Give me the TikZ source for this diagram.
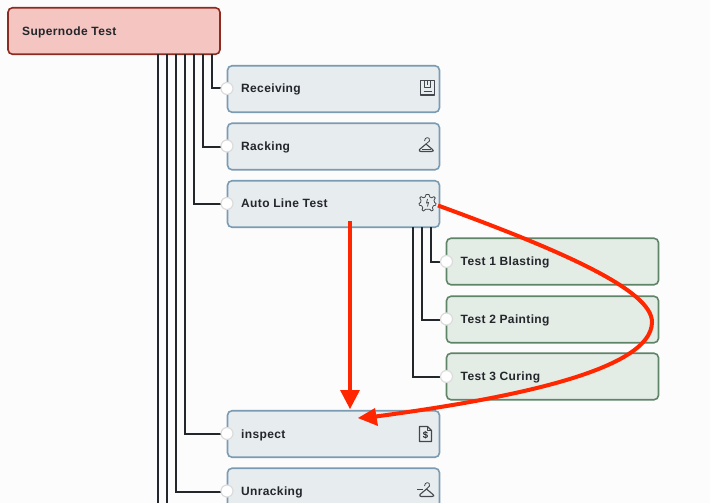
\documentclass[tikz,border=0pt]{standalone}
\usepackage{fontspec}
\setmainfont[LetterSpace=3]{Liberation Sans}
\usetikzlibrary{arrows.meta}
\definecolor{pagebg}{HTML}{FCFCFC}
\definecolor{redfill}{HTML}{F4C5C1}
\definecolor{redline}{HTML}{8E2B20}
\definecolor{bluefill}{HTML}{E7ECEF}
\definecolor{blueline}{HTML}{7B9BB2}
\definecolor{greenfill}{HTML}{E4ECE6}
\definecolor{greenline}{HTML}{5F8569}
\definecolor{ink}{HTML}{23262B}
\definecolor{portline}{HTML}{DCDCDC}
\definecolor{arrowred}{HTML}{FF2600}
\tikzset{
  x=1pt,y=-1pt,
  box/.style={draw,rounded corners=4.5pt,line width=1.6pt,minimum width=212pt,minimum height=46.5pt,inner sep=0pt,outer sep=0pt},
  bluebox/.style={box,fill=bluefill,draw=blueline},
  greenbox/.style={box,fill=greenfill,draw=greenline},
  redbox/.style={box,fill=redfill,draw=redline},
  port/.style={circle,fill=white,draw=portline,line width=1.2pt,minimum size=12pt,inner sep=0pt,outer sep=0pt},
  label/.style={anchor=west,inner sep=0pt,text=ink,font=\fontsize{12}{14}\selectfont\bfseries,text depth=0pt},
  wire/.style={draw=ink,line width=2pt},
  redarrow/.style={draw=arrowred,line width=4pt},
  redhead/.style={fill=arrowred,draw=none},
  icon/.style={draw=ink!85,line width=1.1pt,line join=round},
  thinicon/.style={draw=ink!85,line width=.8pt,line join=round},
}
\begin{document}
\begin{tikzpicture}
\useasboundingbox (0,0) rectangle (710,503);
\clip (0,0) rectangle (710,503);
\fill[pagebg] (0,0) rectangle (710,503);
\coordinate (endA) at (157.5,503);
\coordinate (endB) at (166.5,503);
\node[redbox] (super) at (114,31) {};
\node[bluebox] (recv) at (333.5,89) {};
\node[bluebox] (rack) at (333.5,146.5) {};
\node[bluebox] (auto) at (333.5,204) {};
\node[bluebox] (insp) at (333.5,434) {};
\node[bluebox] (unrk) at (333.5,491.5) {};
\node[greenbox] (t1) at (552.5,261.5) {};
\node[greenbox] (t2) at (552.5,319.5) {};
\node[greenbox] (t3) at (552.5,376.5) {};
\node[label] (lsuper) at (22,31) {Supernode Test};
\node[label] (lrecv) at (241,88) {Receiving};
\node[label] (lrack) at (241,146) {Racking};
\node[label] (lauto) at (241,203) {Auto Line Test};
\node[label] (linsp) at (241,434) {inspect};
\node[label] (lunrk) at (241,491) {Unracking};
\node[label] (lt1) at (460.5,261) {Test 1 Blasting};
\node[label] (lt2) at (460.5,319) {Test 2 Painting};
\node[label] (lt3) at (460.5,376) {Test 3 Curing};
\draw[wire] (211.5,0 |- super.south) |- (227,88.5);
\draw[wire] (202.5,0 |- super.south) |- (227,146.5);
\draw[wire] (193.5,0 |- super.south) |- (227,203.5);
\draw[wire] (184.5,0 |- super.south) |- (227,433.5);
\draw[wire] (175.5,0 |- super.south) |- (227,491.5);
\draw[wire] (166.5,0 |- super.south) -- (endB);
\draw[wire] (157.5,0 |- super.south) -- (endA);
\draw[wire] (430.5,0 |- auto.south) |- (446.5,261.5);
\draw[wire] (421.5,0 |- auto.south) |- (446.5,319.5);
\draw[wire] (412.5,0 |- auto.south) |- (446.5,376.5);
\node[port] (precv) at (227,88.5) {};
\node[port] (prack) at (227,146) {};
\node[port] (pauto) at (227,203.5) {};
\node[port] (pinsp) at (227,433.5) {};
\node[port] (punrk) at (227,491) {};
\node[port] (pt1) at (446.5,261.5) {};
\node[port] (pt2) at (446.5,319) {};
\node[port] (pt3) at (446.5,376.5) {};
% floppy
\draw[icon] (420.5,80.5) rectangle (434.5,95);
\draw[thinicon] (424.5,81) -- (424.5,87.5) -- (430.5,87.5) -- (430.5,81);
\draw[thinicon] (427.5,81) -- (427.5,85);
\draw[thinicon] (423.5,91.5) -- (431.5,91.5);
% hanger
\draw[thinicon] (424.5,141) .. controls (424.5,136.5) and (430.5,136.5) .. (429.5,141) -- (426,144);
\draw[icon] (426,144) -- (419.5,149.5) .. controls (418.5,151) and (420,151.5) .. (421,151.5) -- (431.5,151.5) .. controls (433.5,151.5) and (434,150.5) .. (432.5,149.5) -- (426,144);
\draw[thinicon] (422,149.5) -- (431,149.5);
% gear
\draw[thinicon] (427.5,194.5) -- (429,194.5) -- (429.8,197) -- (431.6,197.8) -- (434,196.6) -- (435.2,198) -- (434,200.2) -- (434.6,202.5) -- (436,203.5) -- (435.6,205.2) -- (433.4,205.8) -- (432.4,207.6) -- (433.2,210) -- (431.6,211) -- (429.6,209.2) -- (425.6,209.2) -- (423.6,211) -- (422,210) -- (422.8,207.6) -- (421.6,205.8) -- (419.4,205.2) -- (419,203.5) -- (420.6,202.5) -- (421,200.2) -- (419.8,198) -- (421,196.6) -- (423.4,197.8) -- (425.2,197) -- (426,194.5) -- cycle;
\draw[thinicon] (427.5,199) -- (426.5,203) -- (428.5,202.5) -- (427.5,206.5);
% document
\draw[icon] (419.5,426.5) -- (427.5,426.5) -- (431.5,430.5) -- (431.5,441.5) -- (419.5,441.5) -- cycle;
\draw[thinicon] (427.5,426.5) -- (427.5,430.5) -- (431.5,430.5);
\node[font=\fontsize{9.5}{10}\selectfont\bfseries,text=ink,inner sep=0pt] (dollar) at (425.5,435.5) {\$};
% hanger with minus
\draw[thinicon] (424.5,486) .. controls (424.5,481.5) and (430.5,481.5) .. (429.5,486) -- (426.5,489);
\draw[icon] (426.5,489) -- (420,494.5) .. controls (419,496) and (420.5,496.5) .. (421.5,496.5) -- (432,496.5) .. controls (434,496.5) and (434.5,495.5) .. (433,494.5) -- (426.5,489);
\draw[thinicon] (417,489) -- (422.5,489);
% red arrows
\coordinate (a0) at (350,221);
\coordinate (a1) at (350,392);
\coordinate (atip) at (350,409);
\coordinate (b0) at (438,205.5);
\coordinate (b1) at (372,417);
\draw[redarrow] (a0) -- (a1);
\fill[redhead] (atip) -- (340,390) -- (360,390) -- cycle;
\draw[redarrow] (b0) .. controls (560,250) and (652,290) .. (652,322) .. controls (652,372) and (500,400) .. (b1);
\fill[redhead] (358,418) -- (375,408) -- (378,426) -- cycle;
\end{tikzpicture}
\end{document}
